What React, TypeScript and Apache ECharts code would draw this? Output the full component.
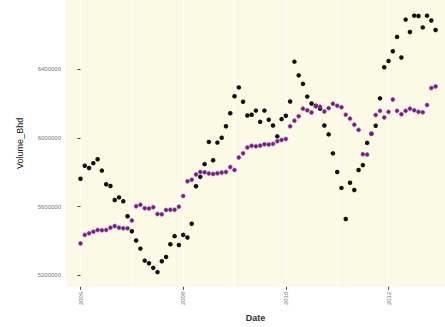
import React, { useEffect, useRef } from "react";
import * as echarts from "echarts";

const startYear = 2006;
const tickYears = [2006, 2008, 2010, 2012];
const minorYears = [2007, 2009, 2011];
const yTicks = [5200000, 5600000, 6000000, 6400000];

const actual = [
  5761700, 5838300, 5824600, 5853100, 5876000, 5809700, 5729700, 5720000, 5638300, 5653100, 5630300, 5542900,
  5455400, 5401700, 5354300, 5284000, 5268600, 5241700, 5217100, 5280000, 5305700, 5380000, 5426900, 5375400,
  5434300, 5418900, 5498900, 5718300, 5773100, 5847400, 5977100, 5870300, 5973100, 6001700, 6068600, 6144600,
  6244000, 6295400, 6211400, 6131400, 6135400, 6160000, 6094300, 6160000, 6106900, 6072600, 6009700, 6110300,
  6129700, 6213100, 6445700, 6365700, 6316000, 6241700, 6201700, 6188600, 6171400, 6072600, 6021100, 5910300,
  5801700, 5708600, 5527400, 5738900, 5696000, 5813100, 5841700, 5971400, 6024600, 6071400, 6231400, 6413100,
  6449700, 6506900, 6590300, 6470300, 6691400, 6618900, 6714300, 6712600, 6645700, 6714300, 6685700, 6630300,
];

const fitted = [
  5384600, 5434300, 5444000, 5453100, 5462900, 5461100, 5462900, 5476000, 5485700, 5476000, 5472600, 5472600,
  5518300, 5601700, 5609700, 5590300, 5588600, 5596000, 5556000, 5554300, 5580000, 5581100, 5581100, 5598300,
  5661100, 5746900, 5756000, 5786900, 5801700, 5800000, 5792600, 5790300, 5794300, 5798300, 5801700, 5830300,
  5813100, 5885700, 5910300, 5944600, 5954300, 5951400, 5955400, 5962900, 5961700, 5965700, 5981100, 5988600,
  5994300, 6068600, 6101100, 6127400, 6171400, 6161700, 6148600, 6184600, 6182900, 6154300, 6174300, 6200000,
  6188600, 6180000, 6136000, 6113100, 6077700, 6047400, 5905700, 5902900, 6024600, 6134300, 6158300, 6120000,
  6152600, 6224600, 6158300, 6138900, 6158300, 6171400, 6161700, 6152600, 6150300, 6192600, 6291400, 6301100,
];

export default function App() {
  const ref = useRef<HTMLDivElement>(null);
  useEffect(() => {
    if (!ref.current) return;
    const chart = echarts.init(ref.current, undefined, { renderer: "svg" });
    // x position: months since January of startYear
    const months = actual.map((_, i) => i);
    const tickVals = tickYears.map((y) => (y - startYear) * 12);
    const minorVals = minorYears.map((y) => (y - startYear) * 12);
    const xMin = -3.39;
    const xMax = 85.2;
    const yMin = 5200000 - 12 * 5714.29;
    const yMax = 5200000 + 281 * 5714.29;
    chart.setOption({
      animation: false,
      backgroundColor: "#ffffff",
      grid: {
        left: 66,
        right: 0,
        top: 0,
        bottom: 34,
        show: true,
        backgroundColor: "#fbfae4",
        borderWidth: 0,
      },
      xAxis: {
        type: "value",
        min: xMin,
        max: xMax,
        name: "Date",
        nameLocation: "middle",
        nameGap: 20,
        nameTextStyle: { fontFamily: "Liberation Sans", fontSize: 9, fontWeight: "bold", color: "#333" },
        axisLine: { show: false },
        axisTick: { show: true, customValues: tickVals, length: 3, lineStyle: { color: "#444", width: 1 } },
        axisLabel: {
          customValues: tickVals,
          rotate: 90,
          margin: 5,
          fontSize: 6,
          color: "#777",
          fontFamily: "Liberation Sans",
          formatter: (v: number) => String(startYear + Math.round(v / 12)),
        },
        splitLine: { show: false },
      },
      yAxis: {
        type: "value",
        min: yMin,
        max: yMax,
        name: "Volume_Bhd",
        nameLocation: "middle",
        nameGap: 42,
        nameRotate: 90,
        nameTextStyle: { fontFamily: "Liberation Sans", fontSize: 9, color: "#222" },
        axisLine: { show: false },
        axisTick: { show: true, customValues: yTicks, length: 3, lineStyle: { color: "#444", width: 1 } },
        axisLabel: {
          customValues: yTicks,
          margin: 5,
          fontSize: 6,
          color: "#777",
          fontFamily: "Liberation Sans",
          formatter: (v: number) => String(Math.round(v)),
        },
        splitLine: { show: false },
      },
      series: [
        {
          type: "line",
          silent: true,
          z: 0,
          data: [],
          markLine: {
            symbol: "none",
            silent: true,
            z: 0,
            label: { show: false },
            lineStyle: { color: "#ffffff", width: 1, type: "solid", opacity: 0.8 },
            data: [...tickVals, ...minorVals].map((v) => ({ xAxis: v })),
          },
        },
        {
          name: "actual",
          type: "scatter",
          z: 5,
          symbolSize: 4.5,
          itemStyle: { color: "#111111", opacity: 1 },
          data: months.map((m, i) => [m, actual[i]]),
        },
        {
          name: "fitted",
          type: "scatter",
          z: 6,
          symbolSize: 4,
          itemStyle: { color: "#6c2280", borderColor: "#b04ab8", borderWidth: 0.6, opacity: 1 },
          data: months.map((m, i) => [m, fitted[i]]),
        },
      ],
    });
    return () => chart.dispose();
  }, []);
  return (
    <div
      ref={ref}
      style={{ position: "fixed", left: 0, top: 0, width: 445, height: 327 }}
    />
  );
}
